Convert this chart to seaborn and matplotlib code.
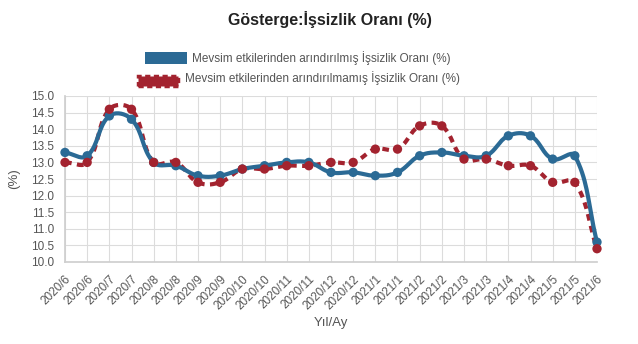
import numpy as np
import pandas as pd
import matplotlib
matplotlib.use("Agg")
import matplotlib.pyplot as plt
import seaborn as sns
from matplotlib.patches import Rectangle

# ---- data ----
labels = ["2020/6", "2020/6", "2020/7", "2020/7", "2020/8", "2020/8", "2020/9", "2020/9",
          "2020/10", "2020/10", "2020/11", "2020/11", "2020/12", "2020/12", "2021/1", "2021/1",
          "2021/2", "2021/2", "2021/3", "2021/3", "2021/4", "2021/4", "2021/5", "2021/5", "2021/6"]
adjusted = [13.3, 13.2, 14.4, 14.3, 13.0, 12.9, 12.6, 12.6, 12.8, 12.9, 13.0, 13.0, 12.7,
            12.7, 12.6, 12.7, 13.2, 13.3, 13.2, 13.2, 13.8, 13.8, 13.1, 13.2, 10.6]
unadjusted = [13.0, 13.0, 14.6, 14.6, 13.0, 13.0, 12.4, 12.4, 12.8, 12.8, 12.9, 12.9, 13.0,
              13.0, 13.4, 13.4, 14.1, 14.1, 13.1, 13.1, 12.9, 12.9, 12.4, 12.4, 10.4]
name_adj = "Mevsim etkilerinden arındırılmış İşsizlik Oranı (%)"
name_unadj = "Mevsim etkilerinden arındırılmamış İşsizlik Oranı (%)"
title = "Gösterge:İşsizlik Oranı (%)"
x_title = "Yıl/Ay"
y_title = "(%)"

BLUE = "#2b6a95"
RED = "#a3232f"

sns.set_theme(style="white")
plt.rcParams["font.family"] = ["Liberation Sans", "DejaVu Sans"]

W, H = 638, 344
fig = plt.figure(figsize=(W / 100, H / 100), dpi=100)
L, R, T, B = 65, 597, 96, 262
ax = fig.add_axes([L / W, 1 - B / H, (R - L) / W, (B - T) / H])

idx = np.arange(len(labels))
df = pd.DataFrame({"i": np.concatenate([idx, idx]),
                   "v": adjusted + unadjusted,
                   "s": [name_adj] * len(idx) + [name_unadj] * len(idx)})

ax.set_xlim(0, len(labels) - 1)
ax.set_ylim(10, 15)

# pixel scale for chart.js-like bezier smoothing
sx = (R - L) / (len(labels) - 1)
sy = (B - T) / 5.0


def smooth(xs, ys, tension=0.4, n=20):
    px = np.asarray(xs, float) * sx
    py = np.asarray(ys, float) * sy
    m = len(px)
    cp_prev = np.zeros((m, 2))
    cp_next = np.zeros((m, 2))
    for i in range(m):
        p0 = (px[max(i - 1, 0)], py[max(i - 1, 0)])
        p1 = (px[i], py[i])
        p2 = (px[min(i + 1, m - 1)], py[min(i + 1, m - 1)])
        d01 = np.hypot(p1[0] - p0[0], p1[1] - p0[1])
        d12 = np.hypot(p2[0] - p1[0], p2[1] - p1[1])
        tot = d01 + d12
        s01 = d01 / tot if tot else 0
        s12 = d12 / tot if tot else 0
        fa, fb = tension * s01, tension * s12
        cp_prev[i] = (p1[0] - fa * (p2[0] - p0[0]), p1[1] - fa * (p2[1] - p0[1]))
        cp_next[i] = (p1[0] + fb * (p2[0] - p0[0]), p1[1] + fb * (p2[1] - p0[1]))
    out_x, out_y = [], []
    t = np.linspace(0, 1, n)
    for i in range(m - 1):
        P0 = np.array([px[i], py[i]])
        P1 = cp_next[i]
        P2 = cp_prev[i + 1]
        P3 = np.array([px[i + 1], py[i + 1]])
        pts = ((1 - t)[:, None] ** 3 * P0 + 3 * (1 - t)[:, None] ** 2 * t[:, None] * P1
               + 3 * (1 - t)[:, None] * t[:, None] ** 2 * P2 + t[:, None] ** 3 * P3)
        out_x.extend(pts[:, 0] / sx)
        out_y.extend(pts[:, 1] / sy)
    return np.array(out_x), np.array(out_y)


# grid
for yv in np.arange(10, 15.01, 0.5):
    ax.axhline(yv, color="#dcdcdc", lw=0.8, zorder=0)
for xv in idx:
    ax.axvline(xv, color="#dcdcdc", lw=0.8, zorder=0)

# lines (smoothed)
ux, uy = smooth(idx, unadjusted)
ax.plot(ux, uy, color=RED, lw=3, ls=(0, (1.6, 1.3)), zorder=3, clip_on=False)
axx, ayy = smooth(idx, adjusted)
ax.plot(axx, ayy, color=BLUE, lw=3, zorder=4, clip_on=False)

# points through seaborn
sns.scatterplot(data=df, x="i", y="v", hue="s", palette={name_adj: BLUE, name_unadj: RED},
                s=45, linewidth=0, ax=ax, legend=False, zorder=5, clip_on=False)

ax.set_xticks(idx)
ax.set_xticklabels(labels, rotation=45, ha="right", rotation_mode="anchor",
                   fontsize=8.5, color="#555555")
ax.set_yticks(np.arange(10, 15.01, 0.5))
ax.set_yticklabels([f"{v:.1f}" for v in np.arange(10, 15.01, 0.5)], fontsize=8.5, color="#555555")
ax.tick_params(axis="both", length=6, color="#dcdcdc", pad=2)
for sp in ax.spines.values():
    sp.set_visible(False)
ax.spines["left"].set_visible(True)
ax.spines["left"].set_color("#cfcfcf")
ax.spines["bottom"].set_visible(True)
ax.spines["bottom"].set_color("#cfcfcf")
ax.set_xlabel(x_title, fontsize=9.5, color="#555555", labelpad=4)
ax.set_ylabel(y_title, fontsize=9.5, color="#555555", labelpad=8)

# title
fig.text(330 / W, 1 - 20 / H, title, ha="center", va="center", fontsize=11.5,
         fontweight="bold", color="#222222")

# legend (custom, like the reference)
fig.patches.append(Rectangle((145 / W, 1 - 64 / H), 42 / W, 12 / H, transform=fig.transFigure,
                             facecolor=BLUE, edgecolor="none"))
fig.text(192 / W, 1 - 58 / H, name_adj, ha="left", va="center", fontsize=8.5, color="#555555")
fig.patches.append(Rectangle((138 / W, 1 - 86 / H), 40 / W, 10 / H, transform=fig.transFigure,
                             facecolor=RED, edgecolor=RED, lw=2.5, ls=(0, (1.5, 1.0))))
fig.text(185 / W, 1 - 78 / H, name_unadj, ha="left", va="center", fontsize=8.5, color="#555555")

fig.savefig("out.png", dpi=100, facecolor="white")
